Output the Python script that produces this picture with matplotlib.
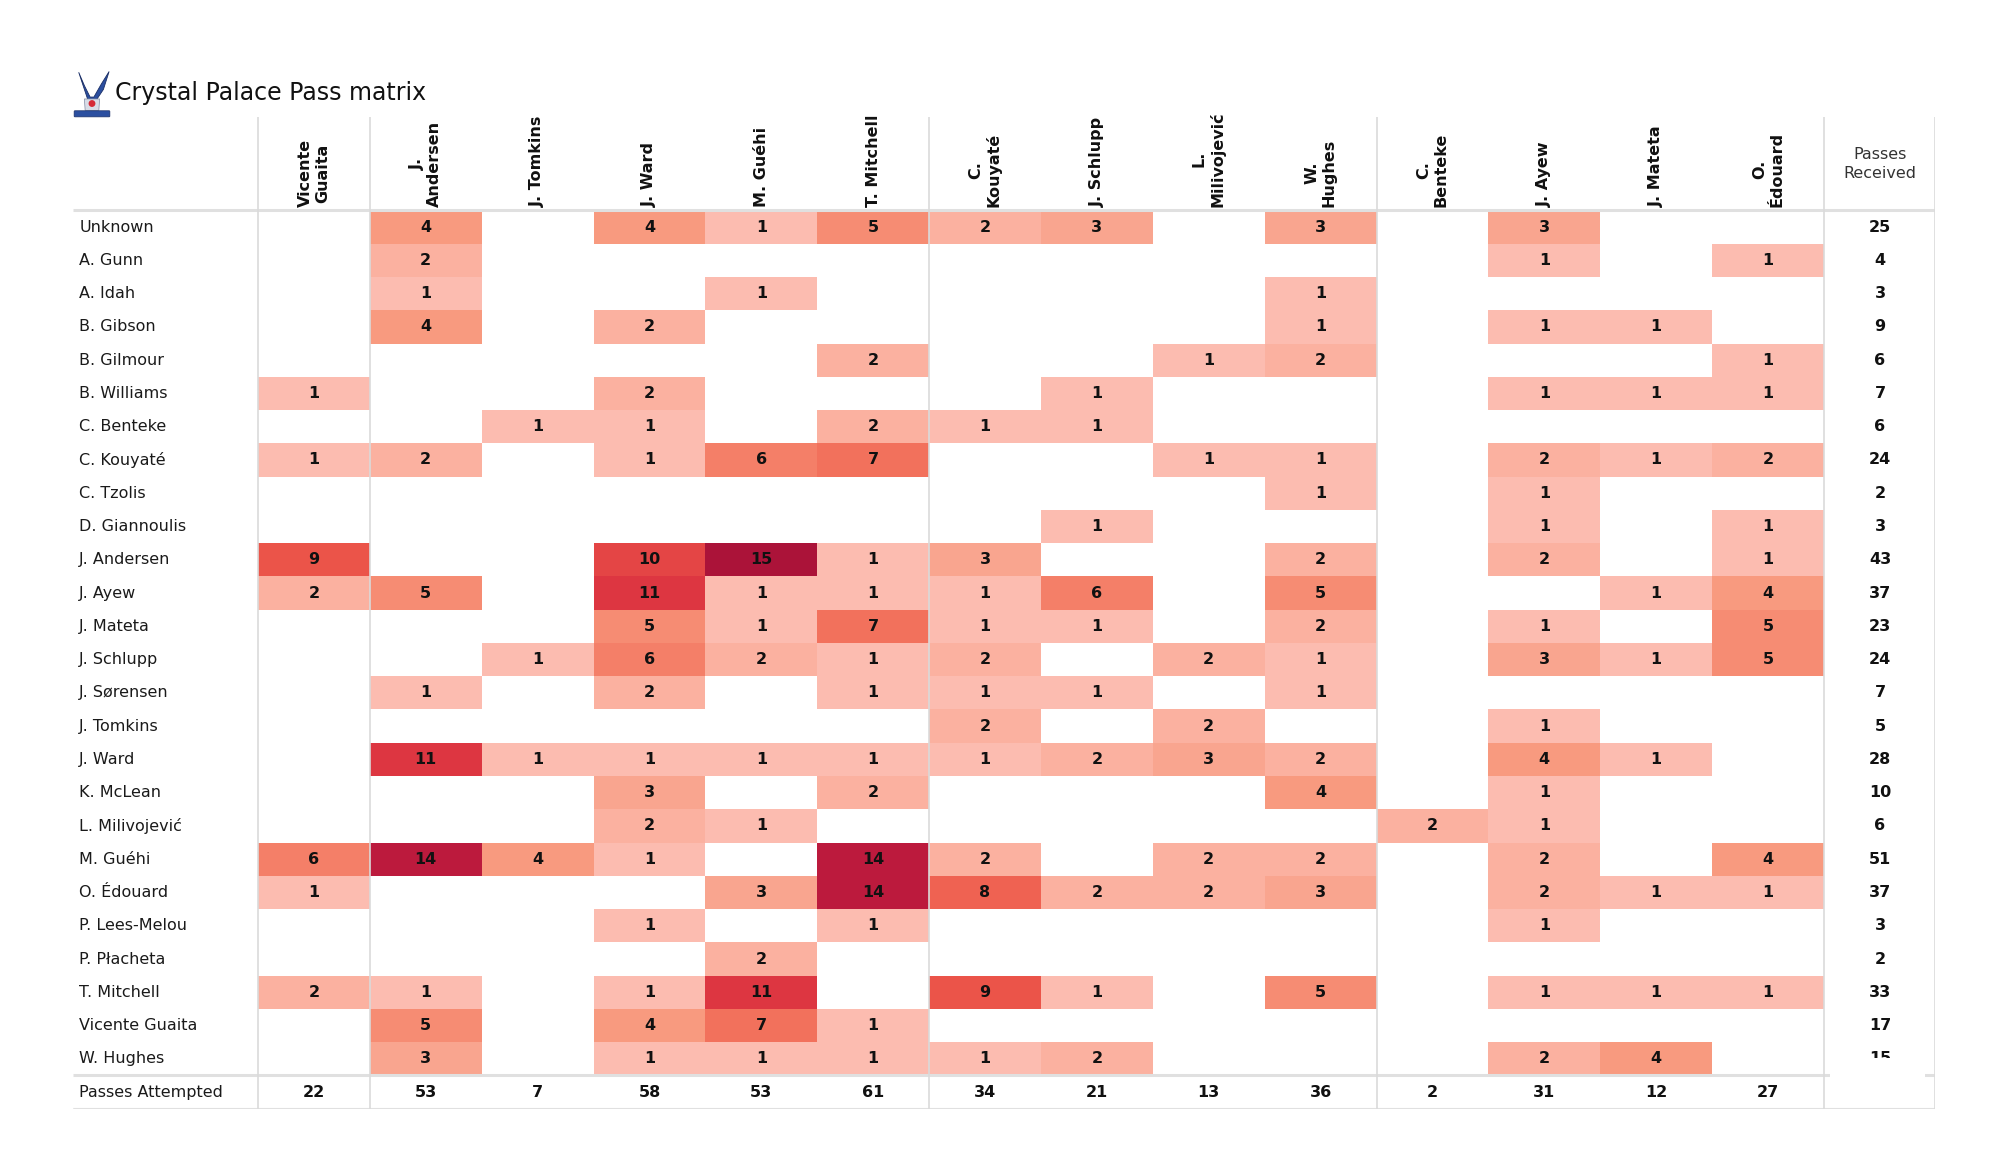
import numpy as np
import matplotlib
matplotlib.use("Agg")
import matplotlib.pyplot as plt
from matplotlib.colors import LinearSegmentedColormap
from matplotlib.patches import Rectangle, Polygon, Circle, FancyBboxPatch

# receivers (columns), grouped GK | DEF | MID | FWD
receivers = ["Vicente\nGuaita", "J.\nAndersen", "J. Tomkins", "J. Ward", "M. Guéhi",
             "T. Mitchell", "C.\nKouyaté", "J. Schlupp", "L.\nMilivojević", "W.\nHughes",
             "C.\nBenteke", "J. Ayew", "J. Mateta", "O.\nÉdouard"]

passers = ["Unknown", "A. Gunn", "A. Idah", "B. Gibson", "B. Gilmour", "B. Williams",
           "C. Benteke", "C. Kouyaté", "C. Tzolis", "D. Giannoulis", "J. Andersen",
           "J. Ayew", "J. Mateta", "J. Schlupp", "J. Sørensen", "J. Tomkins", "J. Ward",
           "K. McLean", "L. Milivojević", "M. Guéhi", "O. Édouard", "P. Lees-Melou",
           "P. Płacheta", "T. Mitchell", "Vicente Guaita", "W. Hughes"]

# rows = passer, cols = receiver (0 = no pass)
pass_counts = [
    [0, 4, 0, 4, 1, 5, 2, 3, 0, 3, 0, 3, 0, 0],
    [0, 2, 0, 0, 0, 0, 0, 0, 0, 0, 0, 1, 0, 1],
    [0, 1, 0, 0, 1, 0, 0, 0, 0, 1, 0, 0, 0, 0],
    [0, 4, 0, 2, 0, 0, 0, 0, 0, 1, 0, 1, 1, 0],
    [0, 0, 0, 0, 0, 2, 0, 0, 1, 2, 0, 0, 0, 1],
    [1, 0, 0, 2, 0, 0, 0, 1, 0, 0, 0, 1, 1, 1],
    [0, 0, 1, 1, 0, 2, 1, 1, 0, 0, 0, 0, 0, 0],
    [1, 2, 0, 1, 6, 7, 0, 0, 1, 1, 0, 2, 1, 2],
    [0, 0, 0, 0, 0, 0, 0, 0, 0, 1, 0, 1, 0, 0],
    [0, 0, 0, 0, 0, 0, 0, 1, 0, 0, 0, 1, 0, 1],
    [9, 0, 0, 10, 15, 1, 3, 0, 0, 2, 0, 2, 0, 1],
    [2, 5, 0, 11, 1, 1, 1, 6, 0, 5, 0, 0, 1, 4],
    [0, 0, 0, 5, 1, 7, 1, 1, 0, 2, 0, 1, 0, 5],
    [0, 0, 1, 6, 2, 1, 2, 0, 2, 1, 0, 3, 1, 5],
    [0, 1, 0, 2, 0, 1, 1, 1, 0, 1, 0, 0, 0, 0],
    [0, 0, 0, 0, 0, 0, 2, 0, 2, 0, 0, 1, 0, 0],
    [0, 11, 1, 1, 1, 1, 1, 2, 3, 2, 0, 4, 1, 0],
    [0, 0, 0, 3, 0, 2, 0, 0, 0, 4, 0, 1, 0, 0],
    [0, 0, 0, 2, 1, 0, 0, 0, 0, 0, 2, 1, 0, 0],
    [6, 14, 4, 1, 0, 14, 2, 0, 2, 2, 0, 2, 0, 4],
    [1, 0, 0, 0, 3, 14, 8, 2, 2, 3, 0, 2, 1, 1],
    [0, 0, 0, 1, 0, 1, 0, 0, 0, 0, 0, 1, 0, 0],
    [0, 0, 0, 0, 2, 0, 0, 0, 0, 0, 0, 0, 0, 0],
    [2, 1, 0, 1, 11, 0, 9, 1, 0, 5, 0, 1, 1, 1],
    [0, 5, 0, 4, 7, 1, 0, 0, 0, 0, 0, 0, 0, 0],
    [0, 3, 0, 1, 1, 1, 1, 2, 0, 0, 0, 2, 4, 0],
]

passes_received = [25, 4, 3, 9, 6, 7, 6, 24, 2, 3, 43, 37, 23, 24, 7, 5, 28, 10, 6,
                   51, 37, 3, 2, 33, 17, 15]
passes_attempted = [22, 53, 7, 58, 53, 61, 34, 21, 13, 36, 2, 31, 12, 27]

group_breaks = [0, 1, 6, 10, 14]

cmap = LinearSegmentedColormap.from_list("palace_reds", [
    (0.0, "#fdd3c9"), (1 / 15, "#fcbcb0"), (4 / 15, "#f89a7f"), (7 / 15, "#f2715c"),
    (9 / 15, "#eb5449"), (11 / 15, "#dd3641"), (14 / 15, "#bc1a3d"), (1.0, "#ab1339")])

fig = plt.figure(figsize=(20, 11.75), dpi=100)

lab_w = 1.653
head_h = 2.807
n_rows = len(passers)
n_cols = len(receivers)
fs = 11.5

ax = fig.add_axes([0.0365, 0.0564, 0.931, 0.8440])
ax.set_xlim(-lab_w, n_cols + 0.992)
ax.set_ylim(n_rows + 1, -head_h)
ax.axis("off")

mat = np.ma.masked_equal(np.array(pass_counts), 0)
ax.pcolormesh(np.arange(n_cols + 1), np.arange(n_rows + 1), mat,
              cmap=cmap, vmin=0, vmax=15, zorder=1)

for i, row in enumerate(pass_counts):
    ax.text(-lab_w + 0.055, i + 0.5, passers[i], ha="left", va="center",
            fontsize=fs, color="#1a1a1a")
    for j, v in enumerate(row):
        if v:
            ax.text(j + 0.5, i + 0.5, str(v), ha="center", va="center",
                    fontsize=fs, fontweight="bold", color="#111111", zorder=3)
    ax.text(n_cols + 0.5, i + 0.5, str(passes_received[i]), ha="center", va="center",
            fontsize=fs, fontweight="bold", color="#111111", zorder=2)

for j, name in enumerate(receivers):
    ax.text(j + 0.5, -0.1, name, rotation=90, ha="center", va="bottom",
            multialignment="center", fontsize=fs, fontweight="bold", color="#111111")
    ax.text(j + 0.5, n_rows + 0.5, str(passes_attempted[j]), ha="center", va="center",
            fontsize=fs, fontweight="bold", color="#111111")

ax.text(n_cols + 0.5, -1.4, "Passes\nReceived", ha="center", va="center",
        fontsize=fs, color="#333333", linespacing=1.3)
ax.text(-lab_w + 0.055, n_rows + 0.5, "Passes Attempted", ha="left", va="center",
        fontsize=fs, color="#1a1a1a")

# grid lines
for y in [0, n_rows, n_rows + 1]:
    ax.plot([-lab_w, n_cols + 0.992], [y, y], color="#e0e0e0", lw=2.2, zorder=2,
            solid_capstyle="butt")
for x in group_breaks + [n_cols + 0.992]:
    ax.plot([x, x], [-head_h, n_rows + 1], color="#dadada", lw=1.2, zorder=5)

# last "Passes Received" value is partly hidden in the original
ax.add_patch(Rectangle((n_cols + 0.05, 25.48), 0.85, 1.2, facecolor="white",
                       edgecolor="none", zorder=4))
ax.plot([-lab_w, n_cols + 0.992], [n_rows + 1, n_rows + 1], color="#e0e0e0",
        lw=2.2, zorder=4.5, solid_capstyle="butt")

# rough club crest next to the title
lax = fig.add_axes([73 / 2000, 1 - 118 / 1175, 38 / 2000, 48 / 1175])
lax.set_xlim(0, 1)
lax.set_ylim(0, 1.26)
lax.axis("off")
lax.add_patch(Polygon([[0.15, 1.2], [0.3, 0.85], [0.45, 0.55], [0.55, 0.55],
                       [0.75, 0.9], [0.95, 1.22], [0.8, 0.75], [0.6, 0.45],
                       [0.4, 0.45], [0.3, 0.75]], closed=True,
                      facecolor="#2b4fa0", edgecolor="#1b2f66", lw=0.6))
lax.add_patch(Polygon([[0.3, 0.5], [0.7, 0.5], [0.68, 0.2], [0.32, 0.2]],
                      closed=True, facecolor="#d8dce6", edgecolor="#7f8aa3", lw=0.5))
lax.add_patch(Circle((0.5, 0.38), 0.09, facecolor="#d52a36", edgecolor="none"))
lax.add_patch(FancyBboxPatch((0.05, 0.05), 0.9, 0.12, boxstyle="round,pad=0.02",
                             facecolor="#2b4fa0", edgecolor="#1b2f66", lw=0.5))

fig.text(0.0575, 1 - 93 / 1175, "Crystal Palace Pass matrix", fontsize=17,
         va="center", ha="left", color="#111111")

fig.savefig("out.png", dpi=100, facecolor="white")
